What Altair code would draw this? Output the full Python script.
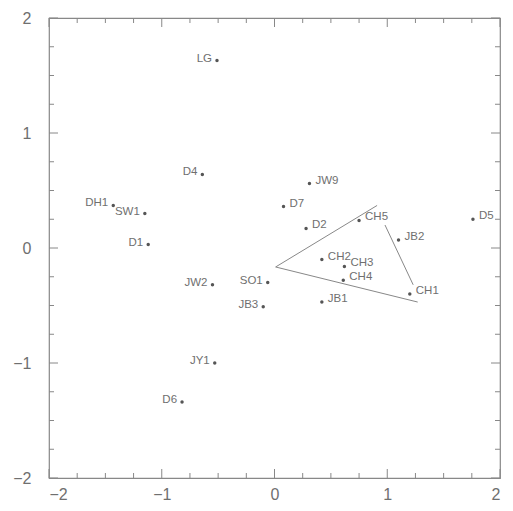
import altair as alt
import pandas as pd

names = ["LG", "D4", "DH1", "SW1", "D1", "JW2", "SO1", "JB3", "JY1", "D6",
         "JW9", "D7", "D2", "CH5", "JB2", "D5", "CH2", "CH3", "CH4", "JB1", "CH1"]
xs = [-0.51, -0.64, -1.43, -1.15, -1.12, -0.55, -0.06, -0.10, -0.53, -0.82,
      0.31, 0.08, 0.28, 0.75, 1.10, 1.76, 0.42, 0.62, 0.61, 0.42, 1.20]
ys = [1.63, 0.64, 0.37, 0.30, 0.03, -0.32, -0.30, -0.51, -1.00, -1.34,
      0.56, 0.36, 0.17, 0.24, 0.07, 0.25, -0.10, -0.16, -0.28, -0.47, -0.40]
sides = ["L"] * 10 + ["R"] * 11

# triangle / vector segments
seg_x = [0.01, 0.01, 0.98]
seg_y = [-0.165, -0.165, 0.20]
seg_x2 = [0.91, 1.27, 1.23]
seg_y2 = [0.37, -0.47, -0.32]

major_ticks = [-2, -1, 0, 1, 2]
minor_ticks = [-1.75, -1.5, -1.25, -0.75, -0.5, -0.25, 0.25, 0.5, 0.75, 1.25, 1.5, 1.75]

W, H = 451, 460
GRAY = "#6f6f6f"
FONT = "Liberation Sans"

pts = pd.DataFrame({"name": names, "x": xs, "y": ys, "side": sides})
segs = pd.DataFrame({"x": seg_x, "y": seg_y, "x2": seg_x2, "y2": seg_y2})

xsc = alt.Scale(domain=[-2, 2], nice=False, zero=False)
ysc = alt.Scale(domain=[-2, 2], nice=False, zero=False)

xax = alt.Axis(values=major_ticks, format="d", ticks=False, domain=False, grid=False, title=None,
               labelFontSize=16, labelColor=GRAY, labelFont=FONT, labelPadding=8)
yax = alt.Axis(values=major_ticks, format="d", ticks=False, domain=False, grid=False, title=None,
               labelFontSize=16, labelColor=GRAY, labelFont=FONT, labelPadding=18)

base = alt.Chart(pts)

dots = base.mark_circle(size=12, color="#555555", opacity=1).encode(
    x=alt.X("x:Q", scale=xsc, axis=xax),
    y=alt.Y("y:Q", scale=ysc, axis=yax),
)

left_lab = base.transform_filter(alt.datum.side == "L").mark_text(
    align="right", baseline="middle", dx=-5, dy=-2, fontSize=11.5, font=FONT, color=GRAY
).encode(x=alt.X("x:Q", scale=xsc), y=alt.Y("y:Q", scale=ysc), text="name:N")

right_lab = base.transform_filter(alt.datum.side == "R").mark_text(
    align="left", baseline="middle", dx=6, dy=-3, fontSize=11.5, font=FONT, color=GRAY
).encode(x=alt.X("x:Q", scale=xsc), y=alt.Y("y:Q", scale=ysc), text="name:N")

lines = alt.Chart(segs).mark_rule(color="#888888", strokeWidth=1).encode(
    x=alt.X("x:Q", scale=xsc), y=alt.Y("y:Q", scale=ysc),
    x2="x2:Q", y2="y2:Q",
)


def tick_layers(vals, length):
    d = pd.DataFrame({"v": vals})
    c = alt.Chart(d).mark_rule(color="#888888", strokeWidth=1)
    return [
        c.encode(x=alt.X("v:Q", scale=xsc), y=alt.value(H), y2=alt.value(H - length)),
        c.encode(x=alt.X("v:Q", scale=xsc), y=alt.value(0), y2=alt.value(length)),
        c.encode(y=alt.Y("v:Q", scale=ysc), x=alt.value(0), x2=alt.value(length)),
        c.encode(y=alt.Y("v:Q", scale=ysc), x=alt.value(W), x2=alt.value(W - length)),
    ]


ticks = tick_layers(major_ticks, 9) + tick_layers(minor_ticks, 5)

chart = alt.layer(dots, lines, left_lab, right_lab, *ticks).properties(
    width=W, height=H,
    autosize=alt.AutoSizeParams(type="none"),
    padding={"left": 41, "top": 10, "right": 5, "bottom": 30},
    background="white",
).configure_view(stroke="#888888", strokeWidth=1.2)

chart.save("out.html", embed_options={"renderer": "svg", "actions": False})
